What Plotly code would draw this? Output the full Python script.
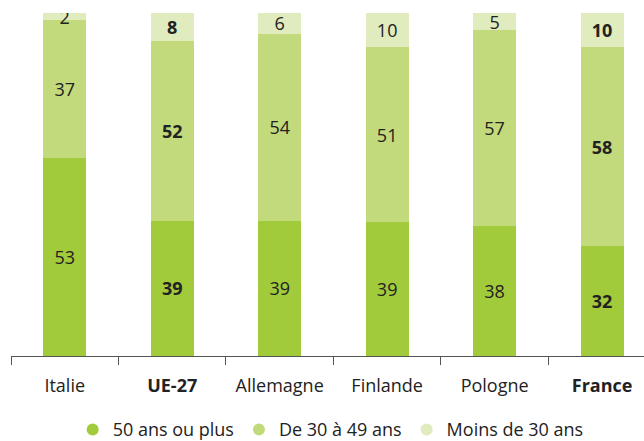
import plotly.graph_objects as go

categories = ["Italie", "UE-27", "Allemagne", "Finlande", "Pologne", "France"]
bold_categories = ["UE-27", "France"]
series_names = ["50 ans ou plus", "De 30 à 49 ans", "Moins de 30 ans"]
v_50plus = [53, 39, 39, 39, 38, 32]
v_30_49 = [37, 52, 54, 51, 57, 58]
v_moins30 = [2, 8, 6, 10, 5, 10]
colors = ["#A2CB3B", "#C3DA7C", "#E0EBBE"]

series = [v_50plus, v_30_49, v_moins30]
totals = [sum(s[i] for s in series) for i in range(len(categories))]

font_family = "Open Sans, Noto Sans, sans-serif"
fig = go.Figure()
for name, vals, col in zip(series_names, series, colors):
    heights = [v / t * 100 for v, t in zip(vals, totals)]
    texts = [f"<b>{v}</b>" if c in bold_categories else str(v) for v, c in zip(vals, categories)]
    fig.add_trace(go.Bar(
        x=categories, y=heights, name=name, marker=dict(color=col, line=dict(width=0)),
        text=texts, textposition="inside", insidetextanchor="middle", textangle=0,
        constraintext="none", textfont=dict(size=18, color="#222222", family=font_family),
        hoverinfo="skip", showlegend=False,
    ))
for name, col in zip(series_names, colors):
    fig.add_trace(go.Scatter(
        x=[None], y=[None], mode="markers", name=name,
        marker=dict(symbol="circle", size=16, color=col), showlegend=True,
    ))

ticktext = [f"<b>{c}</b>" if c in bold_categories else c for c in categories]
fig.update_layout(
    width=644, height=441, barmode="stack", bargap=0.6,
    plot_bgcolor="white", paper_bgcolor="white",
    margin=dict(l=11, r=0, t=13, b=85, autoexpand=False),
    font=dict(family=font_family, size=18, color="#222222"),
    xaxis=dict(tickmode="array", tickvals=categories, ticktext=ticktext,
               range=[-0.5, 5.39],
               showline=True, linecolor="#555555", linewidth=1,
               ticks="outside", tickson="boundaries", ticklen=8, tickcolor="#555555",
               ticklabelstandoff=13, automargin=False,
               showgrid=False, tickfont=dict(size=18, color="#222222")),
    yaxis=dict(range=[0, 100], visible=False, showgrid=False),
    legend=dict(orientation="h", x=0.505, xanchor="center", y=-0.215, yanchor="middle",
                font=dict(size=18, color="#222222"), itemsizing="constant",
                itemwidth=30, tracegroupgap=0, traceorder="normal"),
)
fig.write_html("out.html", config={"displayModeBar": False},
               post_script="document.body.style.margin='0';document.body.style.overflow='hidden';")
